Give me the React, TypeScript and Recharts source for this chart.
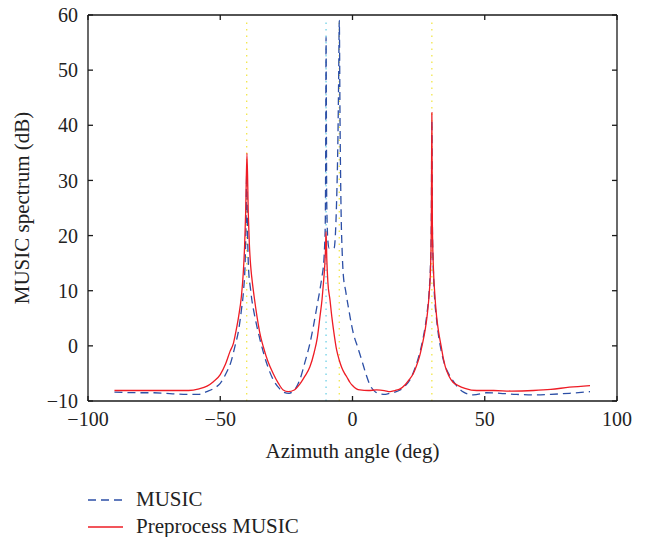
import { Legend, Line, LineChart, ReferenceLine, XAxis, YAxis, Label } from "recharts";

// MUSIC spectrum (blue dashed)
const musicX = [
  -90, -80, -75, -68, -62.7, -58, -55.1, -52, -50, -47.6, -46, -44.4, -43, -42, -41.2, -40.6, -40.3, -40, -39.7,
  -39.3, -38.6, -38.1, -37, -35, -32, -29.9, -27.5, -26, -24, -22.4, -21, -19.8, -18, -16.1, -14.8, -13.5, -12.2,
  -11.4, -11, -10.6, -10.3, -10.15, -10, -9.75, -9.3, -8.8, -7, -6, -5.5, -5.2, -5, -4.7, -4.3, -3.9, -3.5, -2.6,
  -1.6, 0.3, 2, 3.5, 5, 6.6, 8.5, 10.4, 12.5, 14.2, 16, 18, 20, 21.7, 23.5, 25, 26.3, 27.3, 28.2, 29, 29.5, 29.8, 30,
  30.2, 30.5, 31, 31.7, 32.4, 33.5, 35, 36.5, 38.1, 40, 42, 45.7, 50.7, 55.8, 62, 68.4, 75, 82, 89.8,
];
const musicY = [
  -8.4, -8.5, -8.5, -8.7, -8.8, -8.8, -8.3, -7.6, -6.8, -4.8, -3, 0, 3, 6.5, 10, 15, 21, 31, 21,
  14, 10.5, 8.5, 5.5, 1.2, -3.8, -6.2, -7.8, -8.4, -8.6, -8.2, -7.3, -6, -3, 0.45, 3.5, 7, 10.5,
  13, 14.4, 17.5, 22, 33, 56, 26.4, 19, 17.7, 17.7, 26.4, 38, 50, 59, 40, 24, 17, 13, 10,
  7.1, 2.3, -0.3, -2.6, -5, -7.1, -8.3, -8.7, -8.8, -8.6, -8.4, -8, -7.2, -6.2, -4.2, -2, 0.5, 3, 6, 10, 15, 22, 41,
  22, 15, 9, 5.2, 2.3, -0.8, -3.6, -5.2, -6.4, -7.6, -8.4, -8.9, -8.5, -8.6, -8.8, -8.9, -8.8, -8.6, -8.3,
];

// Preprocess MUSIC spectrum (red solid)
const preX = [
  -90, -80, -70, -62, -58, -55, -52.6, -50, -48, -46.3, -45, -44, -43, -42, -41.3, -40.8, -40.4, -39.9, -39.4, -39,
  -38.5, -38.1, -37.2, -36, -34.8, -33.7, -32, -30, -28, -26.2, -24.3, -22, -20, -18, -16.1, -14.5, -13.3, -12.3,
  -11.5, -11, -10.5, -10.2, -10, -9.7, -9.3, -8.5, -7.8, -7.2, -6, -5, -4, -3, -2.2, -1, 0, 1.5, 2.8, 6, 9.1, 12, 14.2,
  16, 18, 20, 21.5, 23, 24.2, 25.3, 26.5, 27.5, 28.3, 29, 29.5, 29.8, 30, 30.2, 30.6, 31.1, 31.8, 32.6, 33.5, 34.3,
  35.1, 36.5, 38, 40, 42.5, 47, 53.4, 60, 68.4, 75, 82, 89.8,
];
const preY = [
  -8.1, -8.1, -8.1, -8.1, -7.8, -7.3, -6.5, -5.2, -3.3, -1, 0.5, 2.8, 5.5, 9, 13.2, 18, 24, 34.9, 24, 18.5,
  14.5, 12.5, 9, 5, 1.8, -0.2, -2.8, -5, -6.8, -8.0, -8.3, -8, -7, -5.5, -3.8, -1.2, 1.5, 5.3,
  8.5, 11.3, 14.5, 17.5, 20.7, 15.5, 11.5, 8.3, 5.2, 3, -0.75, -2.6, -4, -5, -5.6, -6.6, -7.2, -7.8, -8, -8.1, -8, -8.1, -8.3,
  -8.1, -7.8, -7, -6.1, -5, -3.6, -2, 0.5, 3, 5.8, 9.5, 14, 22, 42.3, 22, 14, 9.5, 5.3, 2.4, 0, -2.2,
  -3.8, -5.5, -6.6, -7.2, -7.7, -8.1, -8.1, -8.2, -8.1, -7.9, -7.5, -7.2,
];

// source angles (dotted markers)
const markerAngles = [-40, -10, -5, 30];
const markerColors = ["#f2e64a", "#6fd0e6", "#f2e64a", "#f2e64a"];
const markerTop = 59;

const xTicks = [-100, -50, 0, 50, 100];
const yTicks = [-10, 0, 10, 20, 30, 40, 50, 60];

const BLUE = "#2c4fa6";
const RED = "#ee1c25";
const FRAME = "#1a1a1a";
const FONT = "'Liberation Serif', 'DejaVu Serif', serif";

const legendItems = [
  { name: "MUSIC", color: BLUE, dash: "8 5" },
  { name: "Preprocess MUSIC", color: RED, dash: undefined },
];

const music = musicX.map((x, i) => ({ x, y: musicY[i] }));
const preprocess = preX.map((x, i) => ({ x, y: preY[i] }));

function LegendBox() {
  return (
    <div style={{ fontFamily: FONT, fontSize: 21, color: "#222", lineHeight: 1 }}>
      {legendItems.map((item) => (
        <div key={item.name} style={{ display: "flex", alignItems: "center", height: 27 }}>
          <svg width={48} height={10}>
            <line x1={0} y1={5} x2={35} y2={5} stroke={item.color} strokeWidth={1.3} strokeDasharray={item.dash} />
          </svg>
          <span>{item.name}</span>
        </div>
      ))}
    </div>
  );
}

const tickStyle = { fontFamily: FONT, fontSize: 20, fill: "#222" };
const fmt = (v: number) => (v < 0 ? `\u2212${-v}` : `${v}`);
const frameLine = { stroke: FRAME, strokeWidth: 1.3 };
const noLabel = () => <g />;

export default function App() {
  return (
    <div style={{ position: "absolute", left: 0, top: 0, width: 647, height: 537, background: "#fff" }}>
      <LineChart width={647} height={537} margin={{ top: 15, right: 30, bottom: 106, left: 0 }}>
        <XAxis
          dataKey="x"
          type="number"
          domain={[-100, 100]}
          ticks={xTicks}
          allowDataOverflow
          height={30}
          tickSize={-5}
          tickMargin={16}
          axisLine={frameLine}
          tickLine={frameLine}
          tick={tickStyle}
          tickFormatter={fmt}
        >
          <Label
            content={({ viewBox }: any) => (
              <text
                x={viewBox.x + viewBox.width / 2}
                y={viewBox.y + viewBox.height + 27}
                textAnchor="middle"
                style={{ fontFamily: FONT, fontSize: 21, fill: "#222" }}
              >
                Azimuth angle (deg)
              </text>
            )}
          />
        </XAxis>
        <XAxis
          xAxisId="top"
          dataKey="x"
          type="number"
          domain={[-100, 100]}
          ticks={xTicks}
          allowDataOverflow
          orientation="top"
          mirror
          tick={noLabel}
          tickSize={5}
          axisLine={frameLine}
          tickLine={frameLine}
        />
        <YAxis
          type="number"
          domain={[-10, 60]}
          ticks={yTicks}
          allowDataOverflow
          width={88}
          tickSize={-5}
          tickMargin={15}
          axisLine={frameLine}
          tickLine={frameLine}
          tick={tickStyle}
          tickFormatter={fmt}
        >
          <Label
            content={({ viewBox }: any) => {
              const cx = 29;
              const cy = viewBox.y + viewBox.height / 2;
              return (
                <text
                  x={cx}
                  y={cy}
                  textAnchor="middle"
                  transform={`rotate(-90 ${cx} ${cy})`}
                  style={{ fontFamily: FONT, fontSize: 21, fill: "#222" }}
                >
                  MUSIC spectrum (dB)
                </text>
              );
            }}
          />
        </YAxis>
        <YAxis
          yAxisId="right"
          type="number"
          domain={[-10, 60]}
          ticks={yTicks}
          allowDataOverflow
          orientation="right"
          mirror
          tick={noLabel}
          tickSize={5}
          axisLine={frameLine}
          tickLine={frameLine}
        />
        {markerAngles.map((a, i) => (
          <ReferenceLine
            key={`m${i}`}
            segment={[
              { x: a, y: -10 },
              { x: a, y: markerTop },
            ]}
            stroke={markerColors[i]}
            strokeWidth={1.3}
            strokeDasharray="1.5 5"
            ifOverflow="visible"
          />
        ))}
        <Line
          data={music}
          dataKey="y"
          name="MUSIC"
          type="monotone"
          stroke={BLUE}
          strokeWidth={1.3}
          strokeDasharray="8 5"
          dot={false}
          isAnimationActive={false}
        />
        <Line
          data={preprocess}
          dataKey="y"
          xAxisId="top"
          yAxisId="right"
          name="Preprocess MUSIC"
          type="monotone"
          stroke={RED}
          strokeWidth={1.3}
          dot={false}
          isAnimationActive={false}
        />
        <Legend
          layout="vertical"
          verticalAlign="middle"
          align="center"
          content={() => <LegendBox />}
          wrapperStyle={{ left: 88, top: 486, width: 280 }}
        />
      </LineChart>
    </div>
  );
}
